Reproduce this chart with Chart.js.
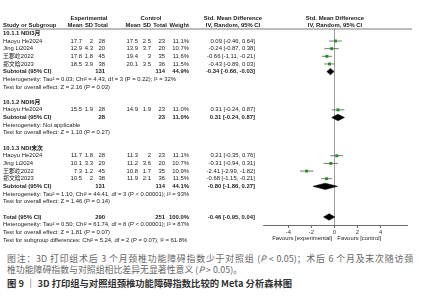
<!DOCTYPE html>
<html>
<head>
<meta charset="utf-8">
<script src="https://cdn.jsdelivr.net/npm/chart.js@4.4.1/dist/chart.umd.min.js"></script>
<style>
  body { margin: 0; background: #fff; width: 421px; height: 300px; overflow: hidden; position: relative; }
  #wrap { position: absolute; left: 0; top: 0; width: 421px; height: 250px; }
  .cap { position: absolute; left: 7px; width: 406px; font-family: "Noto Sans CJK SC", sans-serif; color: #666; font-size: 8.9px; line-height: 11px; white-space: nowrap; }
  .l1 { top: 253px; text-align: justify; text-align-last: justify; }
  .l2 { top: 264px; }
  .l3 { top: 278px; color: #333; font-size: 9.3px; font-weight: bold; }
</style>
</head>
<body>
<div id="wrap"><canvas id="forest" width="421" height="250"></canvas></div>
<div class="cap l1">图注：3D 打印组术后 3 个月颈椎功能障碍指数少于对照组 (<i>P</i> &lt; 0.05)；术后 6 个月及末次随访颈</div>
<div class="cap l2">椎功能障碍指数与对照组相比差异无显著性意义 (<i>P</i> &gt; 0.05)。</div>
<div class="cap l3">图 9 ｜ 3D 打印组与对照组颈椎功能障碍指数比较的 Meta 分析森林图</div>
<script>
// rows are counted from the first subgroup heading downwards
const sectionLabels = ["10.1.1 NDI3月", "10.1.2 NDI6月", "10.1.3 NDI末次"];
const sectionRows = [0, 9, 15];

const studies = ["Haoyu He2024", "Jing Li2024", "王郡屹2022", "郑文晗2023", "Haoyu He2024",
                 "Haoyu He2024", "Jing Li2024", "王郡屹2022", "郑文晗2023"];
const studyRows = [1, 2, 3, 4, 10, 16, 17, 18, 19];
const expMean = [17.7, 12.9, 17.8, 18.5, 15.5, 11.7, 10.1, 7.3, 10.5];
const expSD = [2, 4.3, 1.8, 3.9, 1.9, 1.8, 3.3, 1.2, 2];
const expTotal = [28, 20, 45, 38, 28, 28, 20, 45, 38];
const ctlMean = [17.5, 13.9, 19.4, 20.1, 14.9, 11.3, 11.2, 10.8, 11.9];
const ctlSD = [2.5, 3.7, 3, 3.5, 1.9, 2, 3.6, 1.7, 2.1];
const ctlTotal = [23, 20, 35, 36, 23, 23, 20, 35, 36];
const weights = ["11.1%", "10.7%", "11.6%", "11.5%", "11.0%", "11.1%", "10.7%", "10.9%", "11.5%"];
const smd = [0.09, -0.24, -0.66, -0.43, 0.31, 0.21, -0.31, -2.41, -0.68];
const ciLow = [-0.46, -0.87, -1.11, -0.89, -0.24, -0.35, -0.94, -2.99, -1.15];
const ciHigh = [0.64, 0.38, -0.21, 0.03, 0.87, 0.76, 0.31, -1.82, -0.21];

const poolLabels = ["Subtotal (95% CI)", "Subtotal (95% CI)", "Subtotal (95% CI)", "Total (95% CI)"];
const poolRows = [5, 11, 20, 24];
const poolExpTotal = [131, 28, 131, 290];
const poolCtlTotal = [114, 23, 114, 251];
const poolWeight = ["44.9%", "11.0%", "44.1%", "100.0%"];
const poolSmd = [-0.34, 0.31, -0.80, -0.46];
const poolLow = [-0.66, -0.24, -1.86, -0.95];
const poolHigh = [-0.03, 0.87, 0.27, 0.04];

const noteRows = [6, 7, 12, 13, 21, 22, 25, 26, 27];
const noteText = [
  "Heterogeneity: Tau² = 0.03; Chi² = 4.43, df = 3 (P = 0.22); I² = 32%",
  "Test for overall effect: Z = 2.16 (P = 0.03)",
  "Heterogeneity: Not applicable",
  "Test for overall effect: Z = 1.10 (P = 0.27)",
  "Heterogeneity: Tau² = 1.10; Chi² = 44.41, df = 3 (P < 0.00001); I² = 93%",
  "Test for overall effect: Z = 1.46 (P = 0.14)",
  "Heterogeneity: Tau² = 0.50; Chi² = 61.74, df = 8 (P < 0.00001); I² = 87%",
  "Test for overall effect: Z = 1.81 (P = 0.07)",
  "Test for subgroup differences: Chi² = 5.24, df = 2 (P = 0.07), I² = 61.8%"
];

const xTicks = [-4, -2, 0, 2, 4];
const favourLabels = ["Favours [experimental]", "Favours [control]"];

const FONT = "5.9px 'Liberation Sans', 'Noto Sans CJK SC', sans-serif";
const ciText = (v, lo, hi) => `${v.toFixed(2)} [${lo.toFixed(2)}, ${hi.toFixed(2)}]`;

// CI whiskers, one little line per study
const ciSets = smd.map((v, i) => ({
  data: [{ x: ciLow[i], y: studyRows[i] }, { x: ciHigh[i], y: studyRows[i] }],
  showLine: true,
  borderColor: "#555",
  borderWidth: 0.8,
  pointRadius: 0
}));

// pooled diamonds
const diamondSets = poolSmd.map((v, i) => {
  const r = poolRows[i];
  return {
    data: [
      { x: poolLow[i], y: r }, { x: v, y: r - 0.42 }, { x: poolHigh[i], y: r },
      { x: v, y: r + 0.42 }, { x: poolLow[i], y: r }
    ],
    showLine: true,
    fill: "shape",
    backgroundColor: "#000",
    borderColor: "#000",
    borderWidth: 0.5,
    pointRadius: 0
  };
});

const squareSet = {
  data: smd.map((v, i) => ({ x: v, y: studyRows[i] })),
  pointStyle: "rect",
  pointRadius: 2.1,
  backgroundColor: "#1aa61a",
  borderWidth: 0
};

const forestText = {
  id: "forestText",
  afterDraw(chart) {
    const { ctx, chartArea, scales } = chart;
    const x = scales.x, y = scales.y;
    const put = (s, px, row, align, bold) => {
      ctx.font = (bold ? "bold " : "") + FONT;
      ctx.textAlign = align;
      ctx.fillText(String(s), px, y.getPixelForValue(row));
    };
    ctx.save();
    ctx.textBaseline = "middle";
    ctx.fillStyle = "#222";

    // header
    const mid = (chartArea.left + chartArea.right) / 2;
    put("Experimental", 89, -2, "center", true);
    put("Control", 151, -2, "center", true);
    put("Std. Mean Difference", 233, -2, "center", true);
    put("Std. Mean Difference", mid, -2, "center", true);
    put("Study or Subgroup", 3, -1.1, "left", true);
    put("Mean", 75, -1.1, "center", true);
    put("SD", 89, -1.1, "center", true);
    put("Total", 101, -1.1, "center", true);
    put("Mean", 133, -1.1, "center", true);
    put("SD", 147, -1.1, "center", true);
    put("Total", 160, -1.1, "center", true);
    put("Weight", 189, -1.1, "right", true);
    put("IV, Random, 95% CI", 233, -1.1, "center", true);
    put("IV, Random, 95% CI", mid, -1.1, "center", true);

    ctx.strokeStyle = "#444";
    ctx.lineWidth = 0.7;
    ctx.beginPath();
    ctx.moveTo(3, chartArea.top);
    ctx.lineTo(chartArea.right + 5, chartArea.top);
    ctx.stroke();

    sectionLabels.forEach((s, i) => put(s, 3, sectionRows[i], "left", true));

    studies.forEach((s, i) => {
      const r = studyRows[i];
      put(s, 3, r, "left");
      put(expMean[i], 82, r, "right");
      put(expSD[i], 93, r, "right");
      put(expTotal[i], 105, r, "right");
      put(ctlMean[i], 138, r, "right");
      put(ctlSD[i], 151, r, "right");
      put(ctlTotal[i], 165, r, "right");
      put(weights[i], 189, r, "right");
      put(ciText(smd[i], ciLow[i], ciHigh[i]), 255, r, "right");
    });

    poolLabels.forEach((s, i) => {
      const r = poolRows[i];
      put(s, 3, r, "left", true);
      put(poolExpTotal[i], 105, r, "right", true);
      put(poolCtlTotal[i], 165, r, "right", true);
      put(poolWeight[i], 189, r, "right", true);
      put(ciText(poolSmd[i], poolLow[i], poolHigh[i]), 255, r, "right", true);
    });

    noteText.forEach((s, i) => put(s, 3, noteRows[i], "left"));

    // favours labels under the axis
    ctx.font = FONT;
    ctx.textAlign = "right";
    ctx.fillText(favourLabels[0], x.getPixelForValue(-0.2), chartArea.bottom + 13);
    ctx.textAlign = "left";
    ctx.fillText(favourLabels[1], x.getPixelForValue(0.25), chartArea.bottom + 13);
    ctx.restore();
  }
};

new Chart(document.getElementById("forest"), {
  type: "scatter",
  data: { datasets: [...ciSets, squareSet, ...diamondSets] },
  options: {
    responsive: false,
    animation: false,
    devicePixelRatio: 1,
    events: [],
    layout: { padding: { left: 263, right: 14, top: 29, bottom: 13 } },
    plugins: { legend: { display: false }, tooltip: { enabled: false } },
    scales: {
      x: {
        type: "linear",
        min: -6.2,
        max: 6.3,
        afterBuildTicks: (s) => { s.ticks = xTicks.map(v => ({ value: v })); },
        afterFit: (s) => { s.height = 12; },
        ticks: { font: { size: 5.8, family: "'Liberation Sans', sans-serif" }, color: "#333", padding: 1 },
        grid: {
          color: (c) => (c.tick && c.tick.value === 0 ? "#888" : "transparent"),
          lineWidth: 0.8,
          tickColor: "#444",
          tickLength: 3
        },
        border: { display: true, color: "#444", width: 0.8 }
      },
      y: {
        type: "linear",
        display: false,
        reverse: true,
        min: -0.57,
        max: 25.05
      }
    }
  },
  plugins: [forestText]
});
</script>
</body>
</html>
